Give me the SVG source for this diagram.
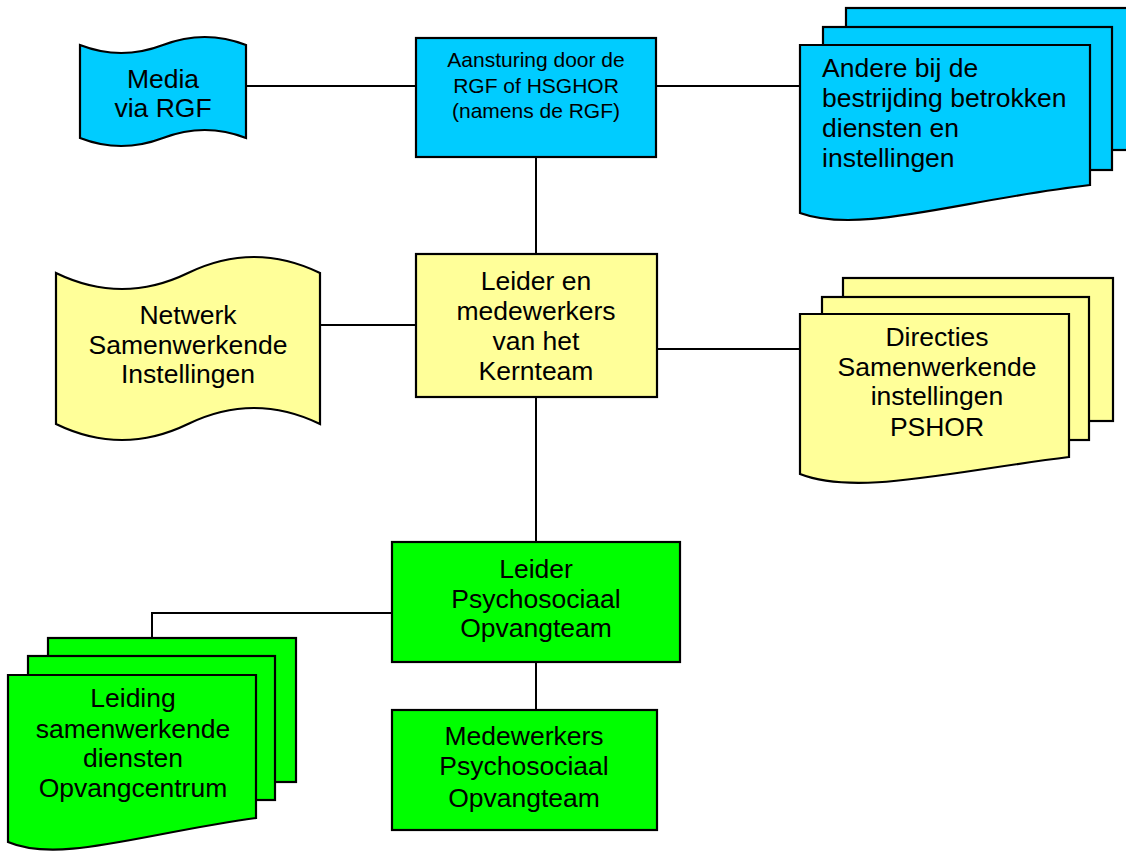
<svg xmlns="http://www.w3.org/2000/svg" width="1126" height="852" viewBox="0 0 1126 852">
<style>
.s{stroke:#000;stroke-width:2.2;stroke-linejoin:miter}
.c{fill:#00CCFF}
.y{fill:#FFFF99}
.g{fill:#00FF00}
.t{font-family:"Liberation Sans",Arial,sans-serif;font-size:26.5px;fill:#000;text-anchor:middle}
.ts{font-family:"Liberation Sans",Arial,sans-serif;font-size:21px;fill:#000;text-anchor:middle}
.l{fill:none;stroke:#000;stroke-width:2}
</style>
<rect width="1126" height="852" fill="#fff"/>
<g id="connectors">
<line class="l" x1="247" y1="86" x2="416" y2="86"/>
<line class="l" x1="656" y1="86" x2="800" y2="86"/>
<line class="l" x1="536" y1="157" x2="536" y2="254"/>
<line class="l" x1="320" y1="325" x2="416" y2="325"/>
<line class="l" x1="657" y1="349" x2="800" y2="349"/>
<line class="l" x1="536" y1="397" x2="536" y2="542"/>
<line class="l" x1="536" y1="662" x2="536" y2="710"/>
<polyline class="l" points="392,613 152,613 152,638"/>
</g>
<g id="media">
<path class="s c" d="M80,45 Q121,61 163,45 Q205,29 246,45 L246,138 Q205,122 163,138 Q121,154 80,138 Z"/>
<text class="t" x="163" y="88">Media</text>
<text class="t" x="163" y="117">via RGF</text>
</g>
<g id="aansturing">
<rect class="s c" x="416" y="38" width="240" height="119"/>
<text class="ts" x="536" y="67">Aansturing door de</text>
<text class="ts" x="536" y="93">RGF of HSGHOR</text>
<text class="ts" x="536" y="118">(namens de RGF)</text>
</g>
<g id="andere">
<rect class="s c" x="846" y="8" width="290" height="142"/>
<rect class="s c" x="823" y="27" width="289" height="143"/>
<path class="s c" d="M800,45 L1090,45 L1090,185 C960,200 860,235 800,213 Z"/>
<text class="t" x="822" y="77" style="text-anchor:start">Andere bij de</text>
<text class="t" x="822" y="107" style="text-anchor:start">bestrijding betrokken</text>
<text class="t" x="822" y="137" style="text-anchor:start">diensten en</text>
<text class="t" x="822" y="167" style="text-anchor:start">instellingen</text>
</g>
<g id="netwerk">
<path class="s y" d="M56,273 Q122,305 188,273 Q254,241 320,273 L320,424 Q254,392 188,424 Q122,456 56,424 Z"/>
<text class="t" x="188" y="324">Netwerk</text>
<text class="t" x="188" y="354">Samenwerkende</text>
<text class="t" x="188" y="383">Instellingen</text>
</g>
<g id="kernteam">
<rect class="s y" x="416" y="254" width="241" height="143"/>
<text class="t" x="536" y="290">Leider en</text>
<text class="t" x="536" y="320">medewerkers</text>
<text class="t" x="536" y="350">van het</text>
<text class="t" x="536" y="380">Kernteam</text>
</g>
<g id="directies">
<rect class="s y" x="843" y="278" width="270" height="143"/>
<rect class="s y" x="822" y="297" width="267" height="143"/>
<path class="s y" d="M800,314 L1069,314 L1069,457 C948,472 856,496 800,474 Z"/>
<text class="t" x="937" y="346">Directies</text>
<text class="t" x="937" y="376">Samenwerkende</text>
<text class="t" x="937" y="405">instellingen</text>
<text class="t" x="937" y="436">PSHOR</text>
</g>
<g id="leider-pot">
<rect class="s g" x="392" y="542" width="288" height="120"/>
<text class="t" x="536" y="578">Leider</text>
<text class="t" x="536" y="608">Psychosociaal</text>
<text class="t" x="536" y="637">Opvangteam</text>
</g>
<g id="medewerkers-pot">
<rect class="s g" x="392" y="710" width="265" height="120"/>
<text class="t" x="524" y="745">Medewerkers</text>
<text class="t" x="524" y="775">Psychosociaal</text>
<text class="t" x="524" y="807">Opvangteam</text>
</g>
<g id="leiding">
<rect class="s g" x="48" y="638" width="248" height="144"/>
<rect class="s g" x="28" y="656" width="247" height="144"/>
<path class="s g" d="M8,675 L256,675 L256,818 C145,833 59,864 8,842 Z"/>
<text class="t" x="133" y="707">Leiding</text>
<text class="t" x="133" y="738">samenwerkende</text>
<text class="t" x="133" y="767">diensten</text>
<text class="t" x="133" y="797">Opvangcentrum</text>
</g>
</svg>
